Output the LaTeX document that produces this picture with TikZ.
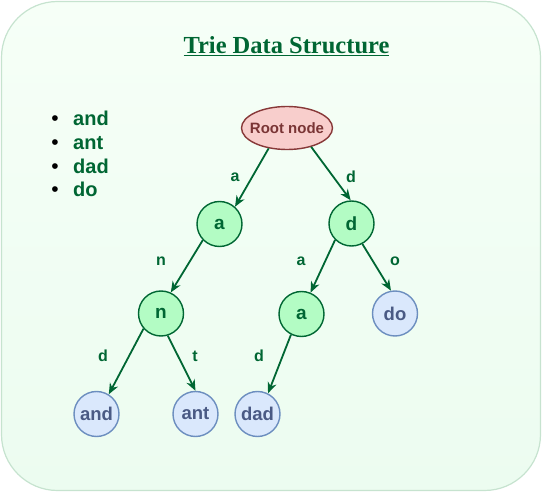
\documentclass[tikz,border=0pt]{standalone}
\usepackage{fontspec}
\setmainfont{Liberation Sans}
\newfontfamily\titlefont{Liberation Serif}
\usetikzlibrary{shapes.geometric,arrows.meta}
\definecolor{dgreen}{HTML}{006633}
\definecolor{gfill}{HTML}{B3FCC4}
\definecolor{bfill}{HTML}{DAE8FC}
\definecolor{bstroke}{HTML}{6C8EBF}
\definecolor{btext}{HTML}{4A5A84}
\definecolor{rfill}{HTML}{F8CECC}
\definecolor{rstroke}{HTML}{873838}
\definecolor{rtext}{HTML}{7A3535}
\definecolor{bgtop}{HTML}{F6FFF7}
\definecolor{bgbot}{HTML}{ECFCF0}
\definecolor{bgline}{HTML}{C6E3CF}
\tikzset{
  gnode/.style={circle,draw=dgreen,fill=gfill,line width=1.4pt,minimum size=45pt,inner sep=0pt,
    text=dgreen,font=\fontsize{19}{20}\selectfont\bfseries},
  bnode/.style={circle,draw=bstroke,fill=bfill,line width=1.4pt,minimum size=45pt,inner sep=0pt,
    text=btext,font=\fontsize{18.5}{20}\selectfont\bfseries},
  rootnode/.style={ellipse,draw=rstroke,fill=rfill,line width=1.4pt,minimum width=91pt,minimum height=43pt,inner sep=0pt},
  roottext/.style={text=rtext,font=\fontsize{15}{16}\selectfont\bfseries,inner sep=0pt},
  edge/.style={draw=dgreen,line width=1.8pt,-{Stealth[length=11pt,width=9pt,inset=3.5pt]}},
  elabel/.style={anchor=base,text=dgreen,font=\fontsize{16}{17}\selectfont\bfseries,inner sep=0pt},
  bul/.style={anchor=base,inner sep=0pt,font=\fontsize{21}{24}\selectfont},
  item/.style={anchor=base west,inner sep=0pt,text=dgreen,font=\fontsize{20}{24}\selectfont\bfseries},
}
\begin{document}
\begin{tikzpicture}[x=1pt,y=-1pt]
\useasboundingbox (0,0) rectangle (542,492);
\path[draw=bgline,line width=1.2pt,top color=bgtop,bottom color=bgbot,rounded corners=56pt] (1.5,1.5) rectangle (540.5,490.5);
\node[anchor=base,inner sep=0pt,text=dgreen,font=\titlefont\fontsize{24.5}{28}\selectfont\bfseries] (title) at (286.5,54) {\underline{Trie Data Structure}};
% list
\node[bul] (b1) at (55,126) {\textbullet};
\node[item] (i1) at (73,126) {and};
\node[bul] (b2) at (55,149.7) {\textbullet};
\node[item] (i2) at (73,149.7) {ant};
\node[bul] (b3) at (55,173.4) {\textbullet};
\node[item] (i3) at (73,173.4) {dad};
\node[bul] (b4) at (55,197) {\textbullet};
\node[item] (i4) at (73,197) {do};
% nodes
\node[rootnode] (root) at (287,128) {};
\node[roottext] (roott) at (root.center) {Root node};
\node[gnode] (a1) at (219.5,224) {a};
\node[gnode] (d1) at (351.5,223.5) {d};
\node[gnode] (n1) at (161,313.5) {n};
\node[gnode] (a2) at (301.5,314) {a};
\node[bnode] (do) at (395,313.5) {do};
\node[bnode] (and) at (96.5,414) {and};
\node[bnode] (ant) at (195.5,414) {ant};
\node[bnode] (dad) at (257.5,414) {dad};
% edges
\draw[edge] (root.228) -- (a1.48);
\draw[edge] (root.-38) -- (d1.92);
\draw[edge] (a1.-136) -- (n1.65);
\draw[edge] (d1.225) -- (a2.67);
\draw[edge] (d1.-62) -- (do.100);
\draw[edge] (n1.-139) -- (and.58);
\draw[edge] (n1.-73) -- (ant.90);
\draw[edge] (a2.-117) -- (dad.63);
% edge labels
\node[elabel] (la1) at (235,182) {a};
\node[elabel] (ld1) at (351,183) {d};
\node[elabel] (ln1) at (161,266) {n};
\node[elabel] (la2) at (301,266) {a};
\node[elabel] (lo) at (395,266) {o};
\node[elabel] (ld2) at (103,362) {d};
\node[elabel] (lt) at (195,362) {t};
\node[elabel] (ld3) at (259,362) {d};
\end{tikzpicture}
\end{document}
